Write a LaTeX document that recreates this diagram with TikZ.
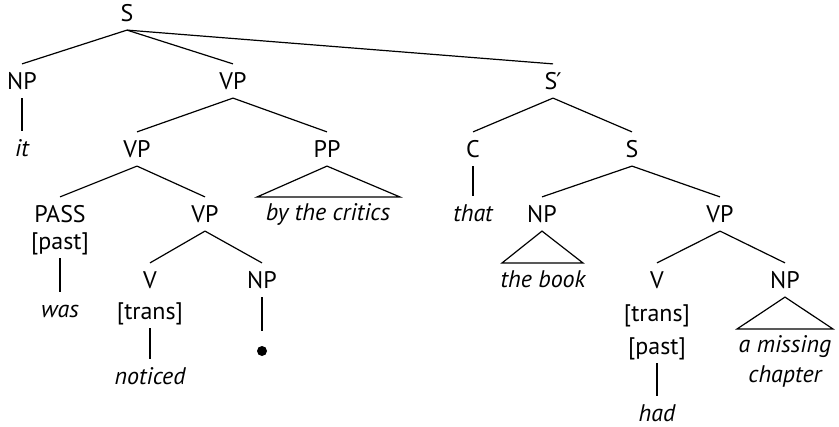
\documentclass[tikz,border=0pt]{standalone}
\usepackage{fontspec}
\setmainfont{PT Sans}
\newfontfamily\primefont{DejaVu Sans}
\begin{document}
\begin{tikzpicture}[x=0.5pt, y=-0.5pt, line width=0.6pt,
    cat/.style={inner xsep=0pt, inner ysep=4pt, text height=8.5pt, text depth=0pt,
      font=\fontsize{12}{14}\selectfont},
    word/.style={cat, font=\fontsize{12}{14}\selectfont\itshape}]
    \useasboundingbox (0,0) rectangle (839,427);
    % 主文
    \node[cat] (s) at (127,13) {S};
    \node[cat] (np1) at (22,81) {NP};
    \node[cat] (vp1) at (233,81) {VP};
    \node[cat] (sbar) at (553,81) {S\kern-0.5pt{\primefont\fontsize{11.5}{12}\selectfont ′}};
    \node[word] (it) at (22,148) {it};
    \node[cat] (vp2) at (137,149) {VP};
    \node[cat] (pp) at (327,149) {PP};
    \node[cat] (pass) at (60,214) {PASS};
    \node[cat] (past1) at (60,241) {[past]};
    \node[word] (was) at (60,309) {was};
    \node[cat] (vp3) at (205,214) {VP};
    \node[word] (byc) at (328,212) {by the critics};
    \node[cat] (v1) at (150,280) {V};
    \node[cat] (trans1) at (150,311) {[trans]};
    \node[word] (noticed) at (150,376) {noticed};
    \node[cat] (np3) at (262,280) {NP};
    \node[circle, fill, inner sep=0pt, minimum size=5pt, outer sep=7.5pt] (dot) at (262,351) {};
    % 補文
    \node[cat] (c) at (473,149) {C};
    \node[cat] (s2) at (632,149) {S};
    \node[word] (that) at (473,213) {that};
    \node[cat] (np2) at (542,214) {NP};
    \node[cat] (vp4) at (720,214) {VP};
    \node[word] (book) at (543,279) {the book};
    \node[cat] (v2) at (657,280) {V};
    \node[cat] (trans2) at (657,313) {[trans]};
    \node[cat] (past2) at (657,346) {[past]};
    \node[word] (had) at (657,413) {had};
    \node[cat] (np4) at (785,280) {NP};
    \node[word] (missing1) at (785,344) {a missing};
    \node[word] (missing2) at (785,374) {chapter};

    % 枝
    \foreach \a/\b in {s/np1, s/vp1, s/sbar, np1/it, vp1/vp2, vp1/pp, vp2/pass, vp2/vp3,
        past1/was, vp3/v1, vp3/np3, trans1/noticed, np3/dot, sbar/c, sbar/s2, c/that,
        s2/np2, s2/vp4, vp4/v2, vp4/np4, past2/had} {
        \draw (\a.south) -- (\b.north);
    }
    % 三角形（省略された構造）
    \foreach \a/\l/\r/\y in {pp/257/400/197, np2/502/583/263, np4/737/833/329} {
        \draw (\a.south) -- (\l,\y) -- (\r,\y) -- cycle;
    }
\end{tikzpicture}
\end{document}
